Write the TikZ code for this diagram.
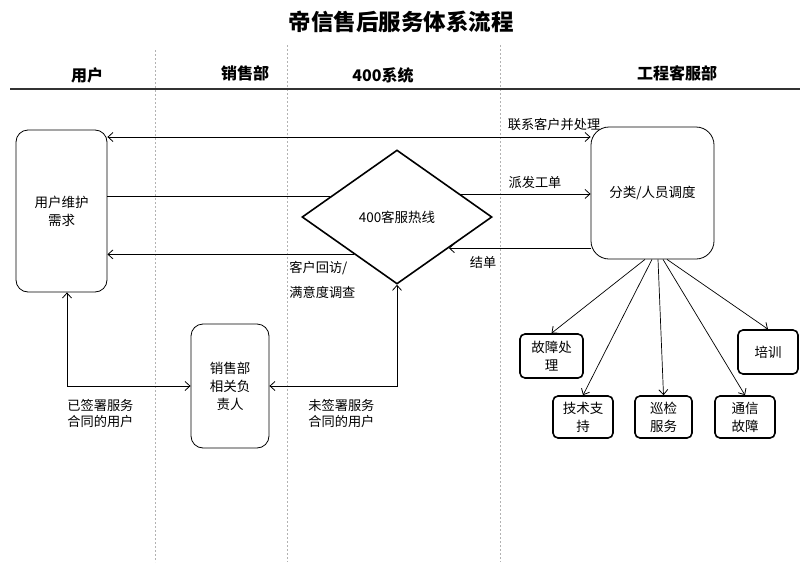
\documentclass[tikz,border=0pt]{standalone}
\usepackage{fontspec}
\setmainfont{Noto Sans CJK SC}
\usepackage{tikz}
\usetikzlibrary{shapes.geometric,arrows.meta}

\tikzset{
  bigbox/.style={draw, thick, rounded corners=12pt, align=center,
    font=\fontsize{13.5}{18}\selectfont},
  smallbox/.style={draw, line width=1.6pt, rounded corners=5pt, align=center,
    inner sep=0pt, font=\fontsize{13.5}{18}\selectfont},
  lbl/.style={font=\fontsize{13.2}{16}\selectfont, inner sep=0pt, align=left},
  head/.style={font=\fontsize{16}{18}\selectfont\bfseries},
  lane/.style={gray!60, dashed, dash pattern=on 2pt off 2pt, line width=0.5pt}
}

\begin{document}
\begin{tikzpicture}[x=1pt,y=-1pt,line width=0.8pt,
    >={Straight Barb[length=5pt,width=9pt,line width=0.8pt]}]
    \useasboundingbox (0,0) rectangle (800,562) ;
    % title and lanes
    \node (title) at (401,22) {\fontsize{22.5}{24}\selectfont\bfseries 帝信售后服务体系流程} ;
    \draw [lane] (155,50) -- (155,562) ;
    \draw [lane] (287,45) -- (287,562) ;
    \draw [lane] (500,45) -- (500,562) ;
    \draw [line width=1.4pt, black!80] (10,89) -- (800,89) ;
    \node [head] (hUser) at (87,75) {用户} ;
    \node [head] (hSales) at (245,73) {销售部} ;
    \node [head] (hSys) at (383,75) {400系统} ;
    \node [head] (hEng) at (677,73) {工程客服部} ;
    % boxes
    \node [bigbox, minimum width=91pt, minimum height=162pt] (user)
      at (61.5,211) {用户维护\\需求} ;
    \node [bigbox, rounded corners=18pt, minimum width=123pt,
      minimum height=132pt] (dispatch) at (652.5,193) {分类/人员调度} ;
    \node [draw, diamond, line width=1.6pt, inner sep=0pt, aspect=1.4,
      minimum width=190pt, minimum height=134pt,
      font=\fontsize{13.5}{15}\selectfont] (hotline) at (397,217) {400客服热线} ;
    \node [bigbox, minimum width=78pt, minimum height=124pt] (sales)
      at (230,386) {销售部\\相关负\\责人} ;
    \node [smallbox, minimum width=63pt, minimum height=44pt] (fault)
      at (551.5,356) {故障处\\理} ;
    \node [smallbox, minimum width=60pt, minimum height=42pt] (tech)
      at (583,417) {技术支\\持} ;
    \node [smallbox, minimum width=57pt, minimum height=42pt] (patrol)
      at (663.5,417) {巡检\\服务} ;
    \node [smallbox, minimum width=60pt, minimum height=42pt] (comm)
      at (745,417) {通信\\故障} ;
    \node [smallbox, minimum width=60pt, minimum height=44pt] (train)
      at (768,352) {培训} ;
    % connectors
    \coordinate (top) at (0,137) ;
    \draw [<->] (user.east |- top) -- (dispatch.west |- top) ;
    \draw (user.east |- hotline.163.4) -- (hotline.163.4) ;
    \draw [->] (hotline.20.2) -- (dispatch.west |- hotline.20.2) ;
    \draw [->] (dispatch.west |- hotline.-31.3) -- (hotline.-31.3) ;
    \draw [->] (hotline.221) -- (user.east |- hotline.221) ;
    \draw [<->] ([xshift=5.5pt]user.south) |- (sales.west) ;
    \draw [<->] (hotline.south) |- (sales.east) ;
    \foreach \dx/\t in {-7.5/fault, -0.5/tech, 5.5/patrol, 10.5/comm, 14.5/train}
      \draw [->, line width=0.7pt] ([xshift=\dx pt]dispatch.south) -- (\t.north) ;
    % labels
    \node [lbl] (lContact) at (554,124) {联系客户并处理} ;
    \node [lbl] (lSend) at (535,182) {派发工单} ;
    \node [lbl] (lClose) at (483,262) {结单} ;
    \node [lbl, anchor=west] (lVisit) at (289,268) {客户回访/} ;
    \node [lbl, anchor=west] (lSurvey) at (289,292) {满意度调查} ;
    \node [lbl, anchor=west] (lSigned) at (67,413) {已签署服务\\合同的用户} ;
    \node [lbl, anchor=west] (lUnsigned) at (308,413) {未签署服务\\合同的用户} ;
  \end{tikzpicture}
\end{document}
